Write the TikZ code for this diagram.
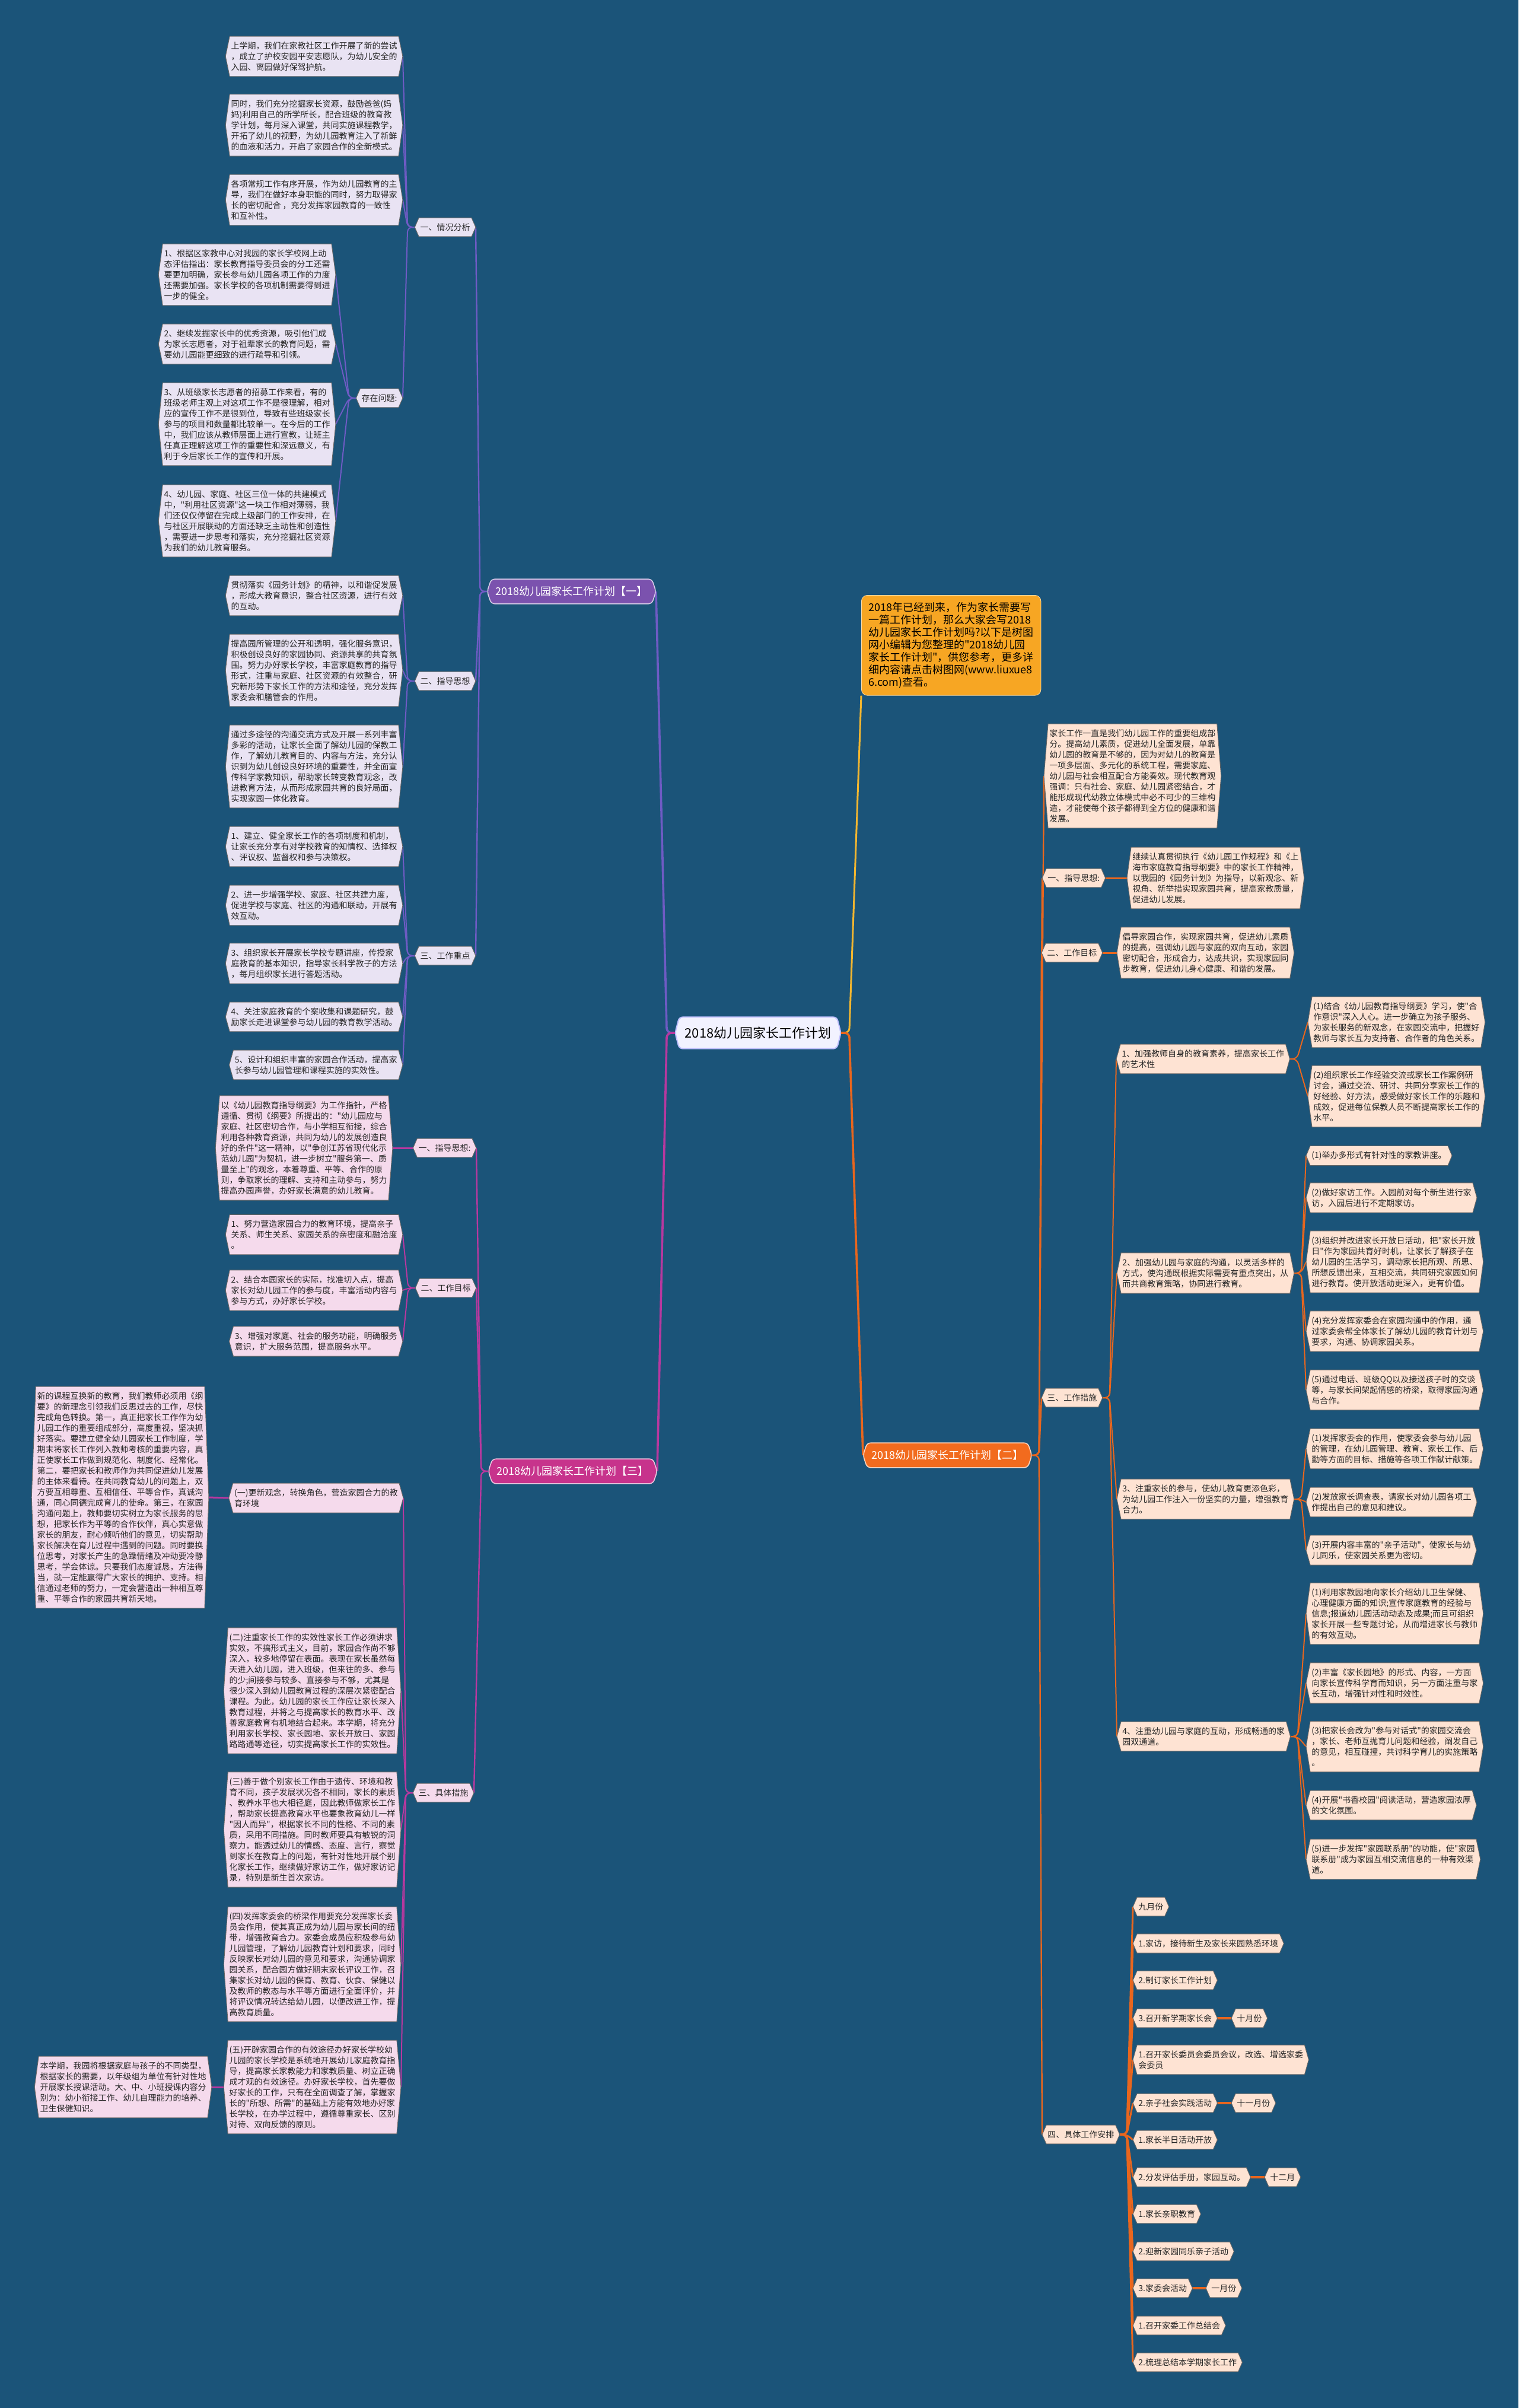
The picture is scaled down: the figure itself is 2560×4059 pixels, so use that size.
\documentclass[tikz,border=0pt]{standalone}
\usepackage{fontspec}
\newfontfamily\cjk{Noto Sans CJK SC}[Ligatures=TeXOff]
\usepackage{xcolor}
\usetikzlibrary{calc,backgrounds}

\definecolor{bgblue}{HTML}{1B5479}
\definecolor{linepur}{HTML}{6F5BC4}
\definecolor{fillpur}{HTML}{7B52AE}
\definecolor{leafpur}{HTML}{E9E3F3}
\definecolor{linemag}{HTML}{B8389F}
\definecolor{fillmag}{HTML}{C7338C}
\definecolor{leafmag}{HTML}{F5DAEC}
\definecolor{lineora}{HTML}{E8661E}
\definecolor{fillora}{HTML}{F26B1E}
\definecolor{leafora}{HTML}{FEE3D3}
\definecolor{introamber}{HTML}{F7A623}
\definecolor{lineyel}{HTML}{F2B630}

% hexagon behind a node, tips at west and east
\newcommand{\hexpath}[2][]{\path[#1] ($(#2.north west)+(7,0)$) -- ($(#2.north east)+(-7,0)$) -- (#2.east) -- ($(#2.south east)+(-7,0)$) -- ($(#2.south west)+(7,0)$) -- (#2.west) -- cycle;}

\begin{document}
\begin{tikzpicture}[x=0.5pt,y=-0.5pt]
\tikzstyle{leaf}=[font={\cjk\fontsize{7}{9}\selectfont}, align=left, inner xsep=4.5pt, inner ysep=4.5pt, text=black!85]
\tikzstyle{main}=[font={\cjk\fontsize{9}{11}\selectfont}, inner xsep=7pt, inner ysep=6pt, text=white]
\tikzstyle{hexP}=[fill=leafpur, draw=black!60, line width=0.5pt]
\tikzstyle{hexM}=[fill=leafmag, draw=black!60, line width=0.5pt]
\tikzstyle{hexO}=[fill=leafora, draw=black!60, line width=0.5pt]
\tikzstyle{conP}=[draw=linepur, line width=1pt, rounded corners=4pt]
\tikzstyle{conM}=[draw=linemag, line width=1pt, rounded corners=4pt]
\tikzstyle{conO}=[draw=lineora, line width=1pt, rounded corners=4pt]
\useasboundingbox (0,0) rectangle (2560,4059);

% centre and intro
\node[font={\cjk\fontsize{11}{13}\selectfont}, inner xsep=8pt, inner ysep=8pt] (ctr) at (1278,1741) {2018幼儿园家长工作计划};
\node[font={\cjk\fontsize{9}{10.5}\selectfont}, align=left, fill=introamber, draw=white!60!introamber, rounded corners=5pt, inner xsep=6pt, inner ysep=6pt, anchor=north west] (intro) at (1452,1003) {2018年已经到来，作为家长需要写\\一篇工作计划，那么大家会写2018\\幼儿园家长工作计划吗?以下是树图\\网小编辑为您整理的"2018幼儿园\\家长工作计划"，供您参考，更多详\\细内容请点击树图网(www.liuxue8\\6.com)查看。};

% branch one
\node[main,anchor=east] (l1) at (1106,997) {2018幼儿园家长工作计划【一】};
\node[leaf,anchor=east] (qk) at (802,383) {一、情况分析};
\node[leaf,anchor=east] (qk1) at (679,95) {上学期，我们在家教社区工作开展了新的尝试\\，成立了护校安园平安志愿队，为幼儿安全的\\入园、离园做好保驾护航。};
\node[leaf,anchor=east] (qk2) at (679,211) {同时，我们充分挖掘家长资源，鼓励爸爸(妈\\妈)利用自己的所学所长，配合班级的教育教\\学计划，每月深入课堂，共同实施课程教学，\\开拓了幼儿的视野，为幼儿园教育注入了新鲜\\的血液和活力，开启了家园合作的全新模式。};
\node[leaf,anchor=east] (qk3) at (679,337) {各项常规工作有序开展，作为幼儿园教育的主\\导，我们在做好本身职能的同时，努力取得家\\长的密切配合 ，充分发挥家园教育的一致性\\和互补性。};
\node[leaf,anchor=east] (wt) at (679,671) {存在问题:};
\node[leaf,anchor=east] (wt1) at (566,463) {1、根据区家教中心对我园的家长学校网上动\\态评估指出：家长教育指导委员会的分工还需\\要更加明确，家长参与幼儿园各项工作的力度\\还需要加强。家长学校的各项机制需要得到进\\一步的健全。};
\node[leaf,anchor=east] (wt2) at (566,580) {2、继续发掘家长中的优秀资源，吸引他们成\\为家长志愿者，对于祖辈家长的教育问题，需\\要幼儿园能更细致的进行疏导和引领。};
\node[leaf,anchor=east] (wt3) at (566,715) {3、从班级家长志愿者的招募工作来看，有的\\班级老师主观上对这项工作不是很理解，相对\\应的宣传工作不是很到位，导致有些班级家长\\参与的项目和数量都比较单一。在今后的工作\\中，我们应该从教师层面上进行宣教，让班主\\任真正理解这项工作的重要性和深远意义，有\\利于今后家长工作的宣传和开展。};
\node[leaf,anchor=east] (wt4) at (566,878) {4、幼儿园、家庭、社区三位一体的共建模式\\中，"利用社区资源"这一块工作相对薄弱，我\\们还仅仅停留在完成上级部门的工作安排，在\\与社区开展联动的方面还缺乏主动性和创造性\\，需要进一步思考和落实，充分挖掘社区资源\\为我们的幼儿教育服务。};
\node[leaf,anchor=east] (zd) at (802,1148) {二、指导思想};
\node[leaf,anchor=east] (zd1) at (679,1004) {贯彻落实《园务计划》的精神，以和谐促发展\\，形成大教育意识，整合社区资源，进行有效\\的互动。};
\node[leaf,anchor=east] (zd2) at (679,1130) {提高园所管理的公开和透明，强化服务意识，\\积极创设良好的家园协同、资源共享的共育氛\\围。努力办好家长学校，丰富家庭教育的指导\\形式，注重与家庭、社区资源的有效整合，研\\究新形势下家长工作的方法和途径，充分发挥\\家委会和膳管会的作用。};
\node[leaf,anchor=east] (zd3) at (679,1292) {通过多途径的沟通交流方式及开展一系列丰富\\多彩的活动，让家长全面了解幼儿园的保教工\\作，了解幼儿教育目的、内容与方法，充分认\\识到为幼儿创设良好环境的重要性，并全面宣\\传科学家教知识，帮助家长转变教育观念，改\\进教育方法，从而形成家园共育的良好局面，\\实现家园一体化教育。};
\node[leaf,anchor=east] (zx) at (802,1611) {三、工作重点};
\node[leaf,anchor=east] (zx1) at (679,1427) {1、建立、健全家长工作的各项制度和机制，\\让家长充分享有对学校教育的知情权、选择权\\、评议权、监督权和参与决策权。};
\node[leaf,anchor=east] (zx2) at (679,1526) {2、进一步增强学校、家庭、社区共建力度，\\促进学校与家庭、社区的沟通和联动，开展有\\效互动。};
\node[leaf,anchor=east] (zx3) at (679,1624) {3、组织家长开展家长学校专题讲座，传授家\\庭教育的基本知识，指导家长科学教子的方法\\，每月组织家长进行答题活动。};
\node[leaf,anchor=east] (zx4) at (679,1714) {4、关注家庭教育的个案收集和课题研究，鼓\\励家长走进课堂参与幼儿园的教育教学活动。};
\node[leaf,anchor=east] (zx5) at (679,1795) {5、设计和组织丰富的家园合作活动，提高家\\长参与幼儿园管理和课程实施的实效性。};

% branch three
\node[main,anchor=east] (l3) at (1108,2480) {2018幼儿园家长工作计划【三】};
\node[leaf,anchor=east] (ms) at (803,1935) {一、指导思想:};
\node[leaf,anchor=east] (ms1) at (662,1935) {以《幼儿园教育指导纲要》为工作指针，严格\\遵循、贯彻《纲要》所提出的："幼儿园应与\\家庭、社区密切合作，与小学相互衔接，综合\\利用各种教育资源，共同为幼儿的发展创造良\\好的条件"这一精神，以"争创江苏省现代化示\\范幼儿园"为契机，进一步树立"服务第一、质\\量至上"的观念，本着尊重、平等、合作的原\\则，争取家长的理解、支持和主动参与，努力\\提高办园声誉，办好家长满意的幼儿教育。};
\node[leaf,anchor=east] (mm) at (803,2171) {二、工作目标};
\node[leaf,anchor=east] (mm1) at (679,2081) {1、努力营造家园合力的教育环境，提高亲子\\关系、师生关系、家园关系的亲密度和融洽度\\。};
\node[leaf,anchor=east] (mm2) at (679,2175) {2、结合本园家长的实际，找准切入点，提高\\家长对幼儿园工作的参与度，丰富活动内容与\\参与方式，办好家长学校。};
\node[leaf,anchor=east] (mm3) at (679,2261) {3、增强对家庭、社会的服务功能，明确服务\\意识，扩大服务范围，提高服务水平。};
\node[leaf,anchor=east] (mc) at (799,3022) {三、具体措施};
\node[leaf,anchor=east] (mc1) at (680,2525) {(一)更新观念，转换角色，营造家园合力的教\\育环境};
\node[leaf,anchor=east] (mc1a) at (352,2524) {新的课程互换新的教育，我们教师必须用《纲\\要》的新理念引领我们反思过去的工作，尽快\\完成角色转换。第一，真正把家长工作作为幼\\儿园工作的重要组成部分，高度重视，坚决抓\\好落实。要建立健全幼儿园家长工作制度，学\\期末将家长工作列入教师考核的重要内容，真\\正使家长工作做到规范化、制度化、经常化。\\第二，要把家长和教师作为共同促进幼儿发展\\的主体来看待。在共同教育幼儿的问题上，双\\方要互相尊重、互相信任、平等合作，真诚沟\\通，同心同德完成育儿的使命。第三，在家园\\沟通问题上，教师要切实树立为家长服务的思\\想，把家长作为平等的合作伙伴，真心实意做\\家长的朋友，耐心倾听他们的意见，切实帮助\\家长解决在育儿过程中遇到的问题。同时要换\\位思考，对家长产生的急躁情绪及冲动要冷静\\思考，学会体谅。只要我们态度诚恳，方法得\\当，就一定能赢得广大家长的拥护、支持。相\\信通过老师的努力，一定会营造出一种相互尊\\重、平等合作的家园共育新天地。};
\node[leaf,anchor=east] (mc2) at (676,2850) {(二)注重家长工作的实效性家长工作必须讲求\\实效，不搞形式主义，目前，家园合作尚不够\\深入，较多地停留在表面。表现在家长虽然每\\天进入幼儿园，进入班级，但来往的多、参与\\的少;间接参与较多、直接参与不够，尤其是\\很少深入到幼儿园教育过程的深层次紧密配合\\课程。为此，幼儿园的家长工作应让家长深入\\教育过程，并将之与提高家长的教育水平、改\\善家庭教育有机地结合起来。本学期，将充分\\利用家长学校、家长园地、家长开放日、家园\\路路通等途径，切实提高家长工作的实效性。};
\node[leaf,anchor=east] (mc3) at (676,3084) {(三)善于做个别家长工作由于遗传、环境和教\\育不同，孩子发展状况各不相同，家长的素质\\、教养水平也大相径庭，因此教师做家长工作\\，帮助家长提高教育水平也要象教育幼儿一样\\"因人而异"，根据家长不同的性格、不同的素\\质，采用不同措施。同时教师要具有敏锐的洞\\察力，能透过幼儿的情感、态度、言行，察觉\\到家长在教育上的问题，有针对性地开展个别\\化家长工作，继续做好家访工作，做好家访记\\录，特别是新生首次家访。};
\node[leaf,anchor=east] (mc4) at (676,3311) {(四)发挥家委会的桥梁作用要充分发挥家长委\\员会作用，使其真正成为幼儿园与家长间的纽\\带，增强教育合力。家委会成员应积极参与幼\\儿园管理，了解幼儿园教育计划和要求，同时\\反映家长对幼儿园的意见和要求，沟通协调家\\园关系，配合园方做好期末家长评议工作，召\\集家长对幼儿园的保育、教育、伙食、保健以\\及教师的教态与水平等方面进行全面评价，并\\将评议情况转达给幼儿园，以便改进工作，提\\高教育质量。};
\node[leaf,anchor=east] (mc5) at (676,3518) {(五)开辟家园合作的有效途径办好家长学校幼\\儿园的家长学校是系统地开展幼儿家庭教育指\\导，提高家长家教能力和家教质量、树立正确\\成才观的有效途径。办好家长学校，首先要做\\好家长的工作，只有在全面调查了解，掌握家\\长的"所想、所需"的基础上方能有效地办好家\\长学校，在办学过程中，遵循尊重家长、区别\\对待、双向反馈的原则。};
\node[leaf,anchor=east] (mc5a) at (357,3518) {本学期，我园将根据家庭与孩子的不同类型，\\根据家长的需要，以年级组为单位有针对性地\\开展家长授课活动。大、中、小班授课内容分\\别为：幼小衔接工作、幼儿自理能力的培养、\\卫生保健知识。};

% branch two
\node[main,anchor=west] (l2) at (1455,2453) {2018幼儿园家长工作计划【二】};
\node[leaf,anchor=west] (oj) at (1760,1308) {家长工作一直是我们幼儿园工作的重要组成部\\分。提高幼儿素质，促进幼儿全面发展，单靠\\幼儿园的教育是不够的，因为对幼儿的教育是\\一项多层面、多元化的系统工程，需要家庭、\\幼儿园与社会相互配合方能奏效。现代教育观\\强调：只有社会、家庭、幼儿园紧密结合，才\\能形成现代幼教立体模式中必不可少的三维构\\造，才能使每个孩子都得到全方位的健康和谐\\发展。};
\node[leaf,anchor=west] (os) at (1757,1480) {一、指导思想:};
\node[leaf,anchor=west] (os1) at (1900,1480) {继续认真贯彻执行《幼儿园工作规程》和《上\\海市家庭教育指导纲要》中的家长工作精神，\\以我园的《园务计划》为指导，以新观念、新\\视角、新举措实现家园共育，提高家教质量，\\促进幼儿发展。};
\node[leaf,anchor=west] (om) at (1756,1606) {二、工作目标};
\node[leaf,anchor=west] (om1) at (1883,1606) {倡导家园合作，实现家园共育，促进幼儿素质\\的提高，强调幼儿园与家庭的双向互动，家园\\密切配合，形成合力，达成共识，实现家园同\\步教育，促进幼儿身心健康、和谐的发展。};
\node[leaf,anchor=west] (ow) at (1756,2356) {三、工作措施};
\node[leaf,anchor=west] (ow1) at (1882,1785) {1、加强教师自身的教育素养，提高家长工作\\的艺术性};
\node[leaf,anchor=west] (ow1a) at (2205,1723) {(1)结合《幼儿园教育指导纲要》学习，使"合\\作意识"深入人心。进一步确立为孩子服务、\\为家长服务的新观念，在家园交流中，把握好\\教师与家长互为支持者、合作者的角色关系。};
\node[leaf,anchor=west] (ow1b) at (2205,1848) {(2)组织家长工作经验交流或家长工作案例研\\讨会，通过交流、研讨、共同分享家长工作的\\好经验、好方法，感受做好家长工作的乐趣和\\成效，促进每位保教人员不断提高家长工作的\\水平。};
\node[leaf,anchor=west] (ow2) at (1883,2146) {2、加强幼儿园与家庭的沟通，以灵活多样的\\方式，使沟通既根据实际需要有重点突出，从\\而共商教育策略，协同进行教育。};
\node[leaf,anchor=west] (ow2a) at (2202,1948) {(1)举办多形式有针对性的家教讲座。};
\node[leaf,anchor=west] (ow2b) at (2202,2019) {(2)做好家访工作。入园前对每个新生进行家\\访，入园后进行不定期家访。};
\node[leaf,anchor=west] (ow2c) at (2202,2127) {(3)组织并改进家长开放日活动，把"家长开放\\日"作为家园共育好时机，让家长了解孩子在\\幼儿园的生活学习，调动家长把所观、所思、\\所想反馈出来，互相交流，共同研究家园如何\\进行教育。使开放活动更深入，更有价值。};
\node[leaf,anchor=west] (ow2d) at (2202,2244) {(4)充分发挥家委会在家园沟通中的作用，通\\过家委会帮全体家长了解幼儿园的教育计划与\\要求，沟通、协调家园关系。};
\node[leaf,anchor=west] (ow2e) at (2202,2343) {(5)通过电话、班级QQ以及接送孩子时的交谈\\等，与家长间架起情感的桥梁，取得家园沟通\\与合作。};
\node[leaf,anchor=west] (ow3) at (1883,2527) {3、注重家长的参与，使幼儿教育更添色彩，\\为幼儿园工作注入一份坚实的力量，增强教育\\合力。};
\node[leaf,anchor=west] (ow3a) at (2202,2442) {(1)发挥家委会的作用，使家委会参与幼儿园\\的管理，在幼儿园管理、教育、家长工作、后\\勤等方面的目标、措施等各项工作献计献策。};
\node[leaf,anchor=west] (ow3b) at (2202,2532) {(2)发放家长调查表，请家长对幼儿园各项工\\作提出自己的意见和建议。};
\node[leaf,anchor=west] (ow3c) at (2202,2613) {(3)开展内容丰富的"亲子活动"，使家长与幼\\儿同乐，使家园关系更为密切。};
\node[leaf,anchor=west] (ow4) at (1883,2927) {4、注重幼儿园与家庭的互动，形成畅通的家\\园双通道。};
\node[leaf,anchor=west] (ow4a) at (2202,2720) {(1)利用家教园地向家长介绍幼儿卫生保健、\\心理健康方面的知识;宣传家庭教育的经验与\\信息;报道幼儿园活动动态及成果;而且可组织\\家长开展一些专题讨论，从而增进家长与教师\\的有效互动。};
\node[leaf,anchor=west] (ow4b) at (2202,2837) {(2)丰富《家长园地》的形式、内容，一方面\\向家长宣传科学育而知识，另一方面注重与家\\长互动，增强针对性和时效性。};
\node[leaf,anchor=west] (ow4c) at (2202,2944) {(3)把家长会改为"参与对话式"的家园交流会\\，家长、老师互抛育儿问题和经验，阐发自己\\的意见，相互碰撞，共讨科学育儿的实施策略\\。};
\node[leaf,anchor=west] (ow4d) at (2202,3043) {(4)开展"书香校园"阅读活动，营造家园浓厚\\的文化氛围。};
\node[leaf,anchor=west] (ow4e) at (2202,3134) {(5)进一步发挥"家园联系册"的功能，使"家园\\联系册"成为家园互相交流信息的一种有效渠\\道。};
\node[leaf,anchor=west] (oa) at (1757,3598) {四、具体工作安排};
\node[leaf,anchor=west] (oa1) at (1910,3214) {九月份};
\node[leaf,anchor=west] (oa2) at (1910,3276) {1.家访，接待新生及家长来园熟悉环境};
\node[leaf,anchor=west] (oa3) at (1910,3338) {2.制订家长工作计划};
\node[leaf,anchor=west] (oa4) at (1910,3402) {3.召开新学期家长会};
\node[leaf,anchor=west] (oa5) at (1910,3472) {1.召开家长委员会委员会议，改选、增选家委\\会委员};
\node[leaf,anchor=west] (oa6) at (1910,3545) {2.亲子社会实践活动};
\node[leaf,anchor=west] (oa7) at (1910,3607) {1.家长半日活动开放};
\node[leaf,anchor=west] (oa8) at (1910,3670) {2.分发评估手册，家园互动。};
\node[leaf,anchor=west] (oa9) at (1910,3732) {1.家长亲职教育};
\node[leaf,anchor=west] (oa10) at (1910,3795) {2.迎新家园同乐亲子活动};
\node[leaf,anchor=west] (oa11) at (1910,3857) {3.家委会活动};
\node[leaf,anchor=west] (oa12) at (1910,3920) {1.召开家委工作总结会};
\node[leaf,anchor=west] (oa13) at (1910,3982) {2.梳理总结本学期家长工作};
\node[leaf,anchor=west] (mon4) at (2076,3402) {十月份};
\node[leaf,anchor=west] (mon6) at (2076,3545) {十一月份};
\node[leaf,anchor=west] (mon8) at (2132,3670) {十二月};
\node[leaf,anchor=west] (mon11) at (2033,3857) {一月份};

\begin{scope}[on background layer]
\fill[bgblue] (0,0) rectangle (2560,4059);
% connectors from the centre
\draw[draw=lineyel, line width=1.5pt, rounded corners=4pt] (ctr.east) -- ++(14,0) -- (intro.south west);
\draw[conO, line width=1.8pt] (ctr.east) -- ++(14,0) -- (l2.west);
\draw[conP, line width=1.8pt] (ctr.west) -- ++(-14,0) -- (l1.east);
\draw[conM, line width=1.8pt] (ctr.west) -- ++(-14,0) -- (l3.east);
% branch one
\foreach \c in {qk,zd,zx} \draw[conP, line width=1.2pt] (l1.west) -- ++(-12,0) -- (\c.east);
\foreach \c in {qk1,qk2,qk3,wt} \draw[conP] (qk.west) -- ++(-12,0) -- (\c.east);
\foreach \c in {wt1,wt2,wt3,wt4} \draw[conP] (wt.west) -- ++(-12,0) -- (\c.east);
\foreach \c in {zd1,zd2,zd3} \draw[conP] (zd.west) -- ++(-12,0) -- (\c.east);
\foreach \c in {zx1,zx2,zx3,zx4,zx5} \draw[conP] (zx.west) -- ++(-12,0) -- (\c.east);
% branch three
\foreach \c in {ms,mm,mc} \draw[conM, line width=1.2pt] (l3.west) -- ++(-12,0) -- (\c.east);
\draw[conM, line width=1.5pt] (ms.west) -- (ms1.east);
\foreach \c in {mm1,mm2,mm3} \draw[conM] (mm.west) -- ++(-12,0) -- (\c.east);
\foreach \c in {mc1,mc2,mc3,mc4,mc5} \draw[conM] (mc.west) -- ++(-12,0) -- (\c.east);
\draw[conM, line width=1.5pt] (mc1.west) -- (mc1a.east);
\draw[conM, line width=1.5pt] (mc5.west) -- (mc5a.east);
% branch two
\foreach \c in {oj,os,om,ow,oa} \draw[conO, line width=1.2pt] (l2.east) -- ++(12,0) -- (\c.west);
\draw[conO, line width=1.5pt] (os.east) -- (os1.west);
\draw[conO, line width=1.5pt] (om.east) -- (om1.west);
\foreach \c in {ow1,ow2,ow3,ow4} \draw[conO] (ow.east) -- ++(12,0) -- (\c.west);
\foreach \c in {ow1a,ow1b} \draw[conO] (ow1.east) -- ++(12,0) -- (\c.west);
\foreach \c in {ow2a,ow2b,ow2c,ow2d,ow2e} \draw[conO] (ow2.east) -- ++(12,0) -- (\c.west);
\foreach \c in {ow3a,ow3b,ow3c} \draw[conO] (ow3.east) -- ++(12,0) -- (\c.west);
\foreach \c in {ow4a,ow4b,ow4c,ow4d,ow4e} \draw[conO] (ow4.east) -- ++(12,0) -- (\c.west);
\foreach \c in {oa1,oa2,oa3,oa4,oa5,oa6,oa7,oa8,oa9,oa10,oa11,oa12,oa13} \draw[conO, line width=1.5pt] (oa.east) -- ++(12,0) -- (\c.west);
\foreach \p/\c in {oa4/mon4,oa6/mon6,oa8/mon8,oa11/mon11} \draw[conO, line width=1.8pt] (\p.east) -- (\c.west);
% boxes
\hexpath[fill=white!95!blue, draw=blue!25, line width=1pt, rounded corners=3pt]{ctr}
\hexpath[fill=fillpur, draw=white!70!fillpur, line width=0.8pt, rounded corners=3pt]{l1}
\hexpath[fill=fillora, draw=white!70!fillora, line width=0.8pt, rounded corners=3pt]{l2}
\hexpath[fill=fillmag, draw=white!70!fillmag, line width=0.8pt, rounded corners=3pt]{l3}
\foreach \n in {qk,qk1,qk2,qk3,wt,wt1,wt2,wt3,wt4,zd,zd1,zd2,zd3,zx,zx1,zx2,zx3,zx4,zx5} {\hexpath[hexP]{\n}}
\foreach \n in {ms,ms1,mm,mm1,mm2,mm3,mc,mc1,mc1a,mc2,mc3,mc4,mc5,mc5a} {\hexpath[hexM]{\n}}
\foreach \n in {oj,os,os1,om,om1,ow,ow1,ow1a,ow1b,ow2,ow2a,ow2b,ow2c,ow2d,ow2e,ow3,ow3a,ow3b,ow3c,ow4,ow4a,ow4b,ow4c,ow4d,ow4e} {\hexpath[hexO]{\n}}
\foreach \n in {oa,oa1,oa2,oa3,oa4,oa5,oa6,oa7,oa8,oa9,oa10,oa11,oa12,oa13,mon4,mon6,mon8,mon11} {\hexpath[hexO]{\n}}
\end{scope}
\end{tikzpicture}
\end{document}
